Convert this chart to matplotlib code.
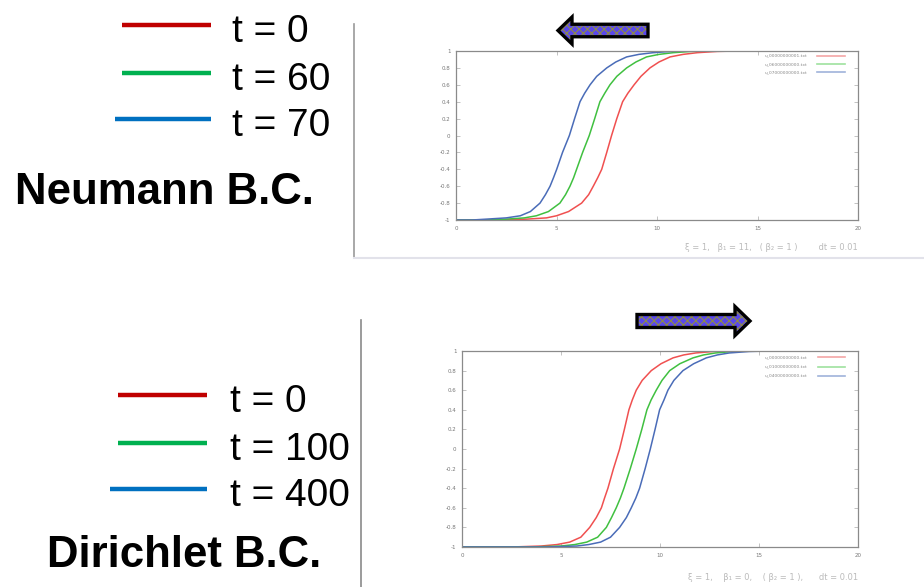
import matplotlib
matplotlib.use('Agg')
import matplotlib.pyplot as plt
from matplotlib.patches import Polygon

W, H = 924, 587

# ── data ─────────────────────────────────────────────────────────────────────
neu_labels = ['t = 0', 't = 60', 't = 70']
neu_files = ['u_00000000001.txt', 'u_06000000000.txt', 'u_07000000000.txt']

y_read = [-1, -1, -0.99, -0.975, -0.95, -0.9, -0.8, -0.7, -0.6, -0.5, -0.4, -0.2, 0.0,
          0.2, 0.4, 0.5, 0.6, 0.7, 0.8, 0.87, 0.93, 0.96, 0.98, 0.995, 1.0, 1.0]

neu_x0 = [0, 2.0, 3.5, 4.5, 5.0, 5.6, 6.25, 6.6, 6.83, 7.05, 7.25, 7.5, 7.74,
          8.0, 8.29, 8.55, 8.86, 9.2, 9.65, 10.1, 10.65, 11.3, 12.0, 13.0, 14.0, 20]
neu_x60 = [0, 1.5, 2.5, 3.4, 4.0, 4.6, 5.17, 5.45, 5.67, 5.85, 6.0, 6.3, 6.63,
           6.9, 7.16, 7.4, 7.66, 8.0, 8.49, 8.95, 9.48, 10.1, 10.8, 11.7, 12.5, 20]
neu_x70 = [0, 0.8, 1.5, 2.5, 3.2, 3.7, 4.18, 4.45, 4.68, 4.85, 5.01, 5.3, 5.64,
           5.9, 6.17, 6.4, 6.67, 7.0, 7.5, 7.95, 8.49, 9.1, 9.8, 10.7, 11.5, 20]

dir_labels = ['t = 0', 't = 100', 't = 400']
dir_files = ['u_00000000000.txt', 'u_01000000000.txt', 'u_04000000000.txt']
dir_x0 = [0, 2.5, 4.0, 4.8, 5.44, 6.0, 6.45, 6.78, 7.04, 7.2, 7.37, 7.65, 7.96,
          8.2, 8.43, 8.6, 8.8, 9.1, 9.56, 10.05, 10.66, 11.2, 11.8, 12.7, 13.5, 20]
dir_x100 = [0, 3.5, 5.0, 5.7, 6.3, 6.85, 7.29, 7.55, 7.79, 8.0, 8.18, 8.5, 8.8,
            9.08, 9.34, 9.55, 9.81, 10.1, 10.49, 11.0, 11.67, 12.2, 12.8, 13.7, 14.5, 20]
dir_x400 = [0, 4.2, 5.8, 6.4, 7.0, 7.5, 7.96, 8.3, 8.55, 8.78, 8.97, 9.25, 9.51,
            9.75, 9.98, 10.2, 10.4, 10.7, 11.16, 11.7, 12.34, 12.9, 13.5, 14.5, 15.5, 20]

x_ticks = [0, 5, 10, 15, 20]
y_ticks = [-1, -0.8, -0.6, -0.4, -0.2, 0, 0.2, 0.4, 0.6, 0.8, 1]

legend_colors = ['#c00000', '#00b050', '#0070c0']
curve_colors = ['#f05050', '#40c040', '#4a6cb8']
key_colors = ['#f4a6a6', '#9ee29e', '#9fb3da']

plt.rcParams['hatch.linewidth'] = 0.8

fig = plt.figure(figsize=(W / 100, H / 100), dpi=100)
fig.patch.set_facecolor('white')


def px_axes(left, top, right, bottom, **kw):
    return fig.add_axes([left / W, 1 - bottom / H, (right - left) / W, (bottom - top) / H], **kw)


def draw_plot(ax, xs_list, files, key_y):
    for xs, c in zip(xs_list, curve_colors):
        ax.plot(xs, y_read, color=c, lw=1.1)
    ax.set_xlim(0, 20)
    ax.set_ylim(-1, 1)
    ax.set_xticks(x_ticks)
    ax.set_yticks(y_ticks)
    ax.set_yticklabels([f'{v:g}' for v in y_ticks])
    ax.tick_params(direction='in', top=True, right=True, length=3, width=0.5,
                   colors='#aaaaaa', labelsize=4, labelcolor='#777777', pad=4)
    for s in ax.spines.values():
        s.set_color('#8a8a8a')
        s.set_linewidth(0.9)
    # gnuplot-style key, top right
    for i, (f, c) in enumerate(zip(files, key_colors)):
        yk = key_y[i]
        ax.plot([0.898, 0.968], [yk, yk], transform=ax.transAxes, color=c, lw=1.2)
        ax.text(0.873, yk, f, transform=ax.transAxes, ha='right', va='center',
                fontsize=3.2, color='#888888')


ax1 = px_axes(456, 51, 858, 220)
draw_plot(ax1, [neu_x0, neu_x60, neu_x70], neu_files, [0.972, 0.921, 0.874])
ax2 = px_axes(462, 351, 858, 547)
draw_plot(ax2, [dir_x0, dir_x100, dir_x400], dir_files, [0.968, 0.920, 0.874])

# overlay in pixel coordinates for the slide decorations
ov = fig.add_axes([0, 0, 1, 1], zorder=-1)
ov.set_xlim(0, W)
ov.set_ylim(H, 0)
ov.axis('off')

ov.plot([354, 354], [24, 258], color='#9a9a9a', lw=1.2)
ov.plot([354, 924], [258, 258], color='#e2e2ea', lw=1.5)
ov.plot([361, 361], [320, 587], color='#8a8a8a', lw=1.2)

fnt = 'Liberation Sans'
legend_blocks = [
    (neu_labels, [25, 72.5, 119], [122, 122, 115], 211, 232),
    (dir_labels, [395, 443, 489], [118, 118, 110], 207, 230),
]
for labels, ys, x_start, x_end, x_text in legend_blocks:
    for lab, c, yy, xs in zip(labels, legend_colors, ys, x_start):
        ov.plot([xs, x_end], [yy, yy], color=c, lw=3.2, solid_capstyle='butt')
        ov.text(x_text, yy + 17.5, lab, fontsize=28, family=fnt,
                ha='left', va='baseline', color='black')

ov.text(15, 204, 'Neumann B.C.', fontsize=31.5, fontweight='bold', family=fnt,
        ha='left', va='baseline', color='black')
ov.text(47, 567, 'Dirichlet B.C.', fontsize=31.5, fontweight='bold', family=fnt,
        ha='left', va='baseline', color='black')

ov.text(858, 248, 'ξ = 1,   β₁ = 11,   ( β₂ = 1 )        dt = 0.01', fontsize=6,
        color='#bbbbbb', ha='right', va='center', family='DejaVu Sans')
ov.text(858, 578, 'ξ = 1,    β₁ = 0,    ( β₂ = 1 ),      dt = 0.01', fontsize=6,
        color='#bbbbbb', ha='right', va='center', family='DejaVu Sans')


def block_arrow(tail, tip, yc, body_h, head_h, head_len):
    d = 1 if tip > tail else -1
    hb = tip - d * head_len
    pts = [(tail, yc - body_h / 2), (hb, yc - body_h / 2), (hb, yc - head_h / 2),
           (tip, yc), (hb, yc + head_h / 2), (hb, yc + body_h / 2), (tail, yc + body_h / 2)]
    ov.add_patch(Polygon(pts, closed=True, facecolor='#5a48ec', edgecolor='none'))
    ov.add_patch(Polygon(pts, closed=True, facecolor='none', edgecolor='#8e8c46', lw=0,
                         hatch='xxxx'))
    ov.add_patch(Polygon(pts, closed=True, facecolor='none', edgecolor='black', lw=2.4))


block_arrow(648, 558, 30.5, 12.5, 27, 14)
block_arrow(637, 750, 321, 13, 29, 15)

fig.savefig('out.png', dpi=100, facecolor='white')
